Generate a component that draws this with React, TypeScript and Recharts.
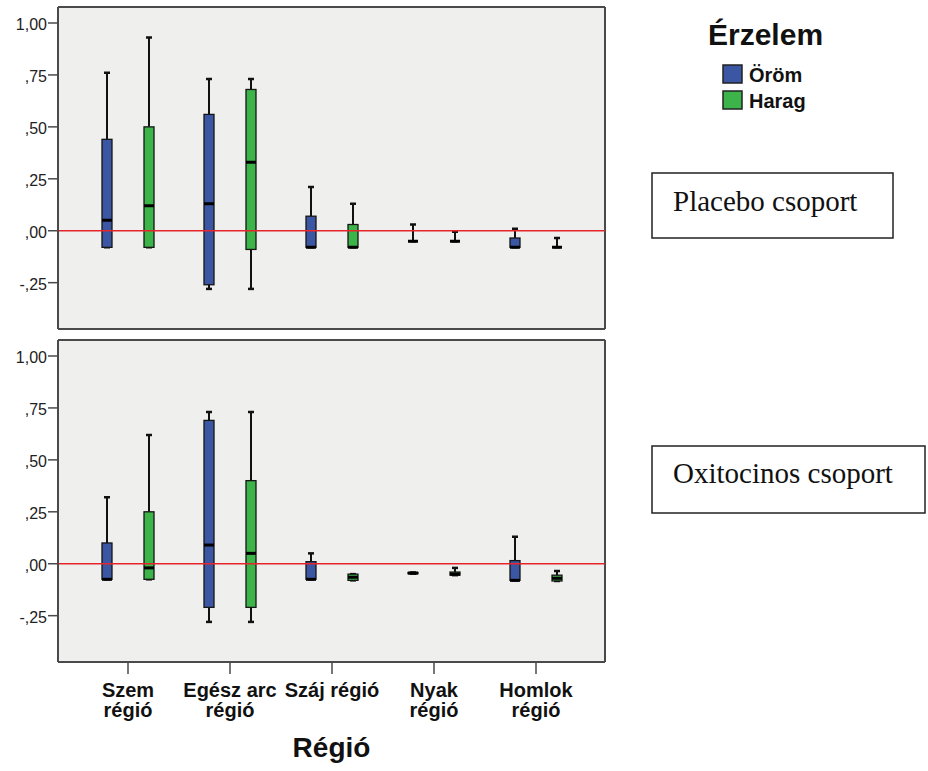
import React from "react";
import { ComposedChart, Bar, XAxis, YAxis, CartesianGrid, ReferenceLine } from "recharts";

// ---------- data ----------
const categories = ["Szem régió", "Egész arc régió", "Száj régió", "Nyak régió", "Homlok régió"];
const categoryLines = [["Szem", "régió"], ["Egész arc", "régió"], ["Száj régió"], ["Nyak", "régió"], ["Homlok", "régió"]];
const seriesNames = ["Öröm", "Harag"];
const legendTitle = "Érzelem";
const axisTitle = "Régió";
const panelTitles = ["Placebo csoport", "Oxitocinos csoport"];
const yTicks = [-0.25, 0, 0.25, 0.5, 0.75, 1];
const yTickLabels = ["-,25", ",00", ",25", ",50", ",75", "1,00"];

// [min, q1, median, q3, max] per category
const placeboOrom = [
  [-0.08, -0.08, 0.05, 0.44, 0.76],
  [-0.28, -0.26, 0.13, 0.56, 0.73],
  [-0.08, -0.08, -0.08, 0.07, 0.21],
  [-0.05, -0.05, -0.05, -0.05, 0.03],
  [-0.08, -0.08, -0.08, -0.035, 0.01],
];
const placeboHarag = [
  [-0.08, -0.08, 0.12, 0.5, 0.93],
  [-0.28, -0.09, 0.33, 0.68, 0.73],
  [-0.08, -0.08, -0.08, 0.03, 0.13],
  [-0.05, -0.05, -0.05, -0.05, -0.005],
  [-0.08, -0.08, -0.08, -0.08, -0.035],
];
const oxiOrom = [
  [-0.075, -0.075, -0.075, 0.1, 0.32],
  [-0.28, -0.21, 0.09, 0.69, 0.73],
  [-0.075, -0.075, -0.075, 0.01, 0.05],
  [-0.048, -0.048, -0.045, -0.042, -0.042],
  [-0.08, -0.08, -0.08, 0.015, 0.13],
];
const oxiHarag = [
  [-0.075, -0.075, -0.02, 0.25, 0.62],
  [-0.28, -0.21, 0.05, 0.4, 0.73],
  [-0.08, -0.08, -0.065, -0.05, -0.05],
  [-0.055, -0.055, -0.05, -0.04, -0.02],
  [-0.083, -0.083, -0.07, -0.055, -0.035],
];

// ---------- style ----------
const Y_MIN = -0.473;
const Y_MAX = 1.077;
const BLUE = "#3b56a3";
const GREEN = "#3db44a";
const FRAME = "#4a4a4a";
const SANS = "'Liberation Sans', Arial, sans-serif";
const SERIF = "'Liberation Serif', 'Times New Roman', serif";

type Row = { name: string; idx: number; o: number[]; h: number[] };
const buildRows = (o: number[][], h: number[][]): Row[] =>
  categories.map((name, i) => ({ name, idx: i, o: o[i], h: h[i] }));

const placeboRows = buildRows(placeboOrom, placeboHarag);
const oxiRows = buildRows(oxiOrom, oxiHarag);

const fmt = (v: number) => {
  const i = yTicks.findIndex((t) => Math.abs(t - v) < 1e-9);
  return i >= 0 ? yTickLabels[i] : String(v);
};

const BoxShape = (props: any, stats: number[], color: string) => {
  const { x, y, width, height } = props;
  if (x == null || y == null) return <g />;
  const h = height || 0;
  const top = Math.min(y, y + h);
  const bot = Math.max(y, y + h);
  const [mn, q1, md, q3, mx] = stats;
  const span = mx - mn;
  const py = (v: number) => (span === 0 ? top : bot - ((bot - top) * (v - mn)) / span);
  const cx = x + width / 2;
  return (
    <g>
      <line x1={cx} x2={cx} y1={py(mx)} y2={py(q3)} stroke="#111" strokeWidth={2} />
      <line x1={cx} x2={cx} y1={py(q1)} y2={py(mn)} stroke="#111" strokeWidth={2} />
      <line x1={cx - 3} x2={cx + 3} y1={py(mx)} y2={py(mx)} stroke="#111" strokeWidth={2.5} />
      <line x1={cx - 3} x2={cx + 3} y1={py(mn)} y2={py(mn)} stroke="#111" strokeWidth={2.5} />
      <rect x={x} y={py(q3)} width={width} height={Math.max(0, py(q1) - py(q3))} fill={color} stroke="#151515" strokeWidth={1.3} />
      <line x1={x} x2={x + width} y1={py(md)} y2={py(md)} stroke="#000" strokeWidth={3} />
    </g>
  );
};

const CatTick = (props: any) => {
  const { x, y, payload } = props;
  const lines = categoryLines[payload.index] || [payload.value];
  return (
    <g>
      {lines.map((l: string, i: number) => (
        <text key={i} x={x} y={y + 21 + i * 20} textAnchor="middle" fontFamily={SANS} fontWeight="bold" fontSize={20} fill="#111">
          {l}
        </text>
      ))}
    </g>
  );
};

const YTick = (props: any) => {
  const { x, y, payload } = props;
  return (
    <text x={x} y={y + 7} textAnchor="end" fontFamily={SANS} fontSize={16} fill="#222">
      {fmt(payload.value)}
    </text>
  );
};

const frameH = (p: any) => [p.offset.top, p.offset.top + p.offset.height];
const frameV = (p: any) => [p.offset.left, p.offset.left + p.offset.width];

function Panel({ rows, showX }: { rows: Row[]; showX: boolean }) {
  const axisLine = { stroke: FRAME, strokeWidth: 2 };
  return (
    <ComposedChart
      width={620}
      height={showX ? 438 : 340}
      data={rows}
      margin={{ top: 7, right: 15, bottom: showX ? 0 : 11, left: 0 }}
      barGap={32}
    >
      <CartesianGrid
        fill="#eff0ee"
        stroke={FRAME}
        strokeWidth={2}
        horizontalCoordinatesGenerator={frameH}
        verticalCoordinatesGenerator={frameV}
      />
      <XAxis
        dataKey="name"
        type="category"
        padding={{ left: 19, right: 18 }}
        height={showX ? 109 : 0}
        tick={showX ? <CatTick /> : false}
        tickLine={showX ? { stroke: FRAME, strokeWidth: 1.5 } : false}
        tickSize={12}
        interval={0}
        axisLine={axisLine}
      />
      <YAxis
        type="number"
        domain={[Y_MIN, Y_MAX]}
        allowDataOverflow
        ticks={yTicks}
        interval={0}
        tickFormatter={fmt}
        width={58}
        tickSize={10}
        tickMargin={1}
        tick={<YTick />}
        tickLine={{ stroke: FRAME, strokeWidth: 1.5 }}
        axisLine={axisLine}
      />
      <Bar
        dataKey={(d: Row) => [d.o[0], d.o[4]]}
        name={seriesNames[0]}
        barSize={10}
        fill={BLUE}
        isAnimationActive={false}
        shape={(p: any) => BoxShape(p, p.payload.o, BLUE)}
      />
      <Bar
        dataKey={(d: Row) => [d.h[0], d.h[4]]}
        name={seriesNames[1]}
        barSize={10}
        fill={GREEN}
        isAnimationActive={false}
        shape={(p: any) => BoxShape(p, p.payload.h, GREEN)}
      />
      <ReferenceLine y={0} stroke="#e8242b" strokeWidth={1.5} />
    </ComposedChart>
  );
}

export default function App() {
  return (
    <div style={{ position: "absolute", left: 0, top: 0, width: 928, height: 771, background: "#fff" }}>
      <div style={{ position: "absolute", left: 0, top: 0 }}>
        <Panel rows={placeboRows} showX={false} />
      </div>
      <div style={{ position: "absolute", left: 0, top: 333 }}>
        <Panel rows={oxiRows} showX={true} />
      </div>
      <svg width={928} height={771} style={{ position: "absolute", left: 0, top: 0, pointerEvents: "none" }}>
        <text x={331.5} y={757} textAnchor="middle" fontFamily={SANS} fontWeight="bold" fontSize={28} fill="#111">
          {axisTitle}
        </text>
        <text x={708} y={45} fontFamily={SANS} fontWeight="bold" fontSize={30} fill="#111">
          {legendTitle}
        </text>
        <rect x={723} y={65} width={19} height={18} fill={BLUE} stroke="#222" strokeWidth={1.5} />
        <text x={749} y={82} fontFamily={SANS} fontWeight="bold" fontSize={20} fill="#111">
          {seriesNames[0]}
        </text>
        <rect x={723} y={91} width={19} height={18} fill={GREEN} stroke="#222" strokeWidth={1.5} />
        <text x={749} y={108} fontFamily={SANS} fontWeight="bold" fontSize={20} fill="#111">
          {seriesNames[1]}
        </text>
        <rect x={652} y={173} width={241} height={65} fill="none" stroke="#222" strokeWidth={1.5} />
        <text x={673} y={211} fontFamily={SERIF} fontSize={29} fill="#111">
          {panelTitles[0]}
        </text>
        <rect x={652} y={446} width={273} height={67} fill="none" stroke="#222" strokeWidth={1.5} />
        <text x={673} y={483} fontFamily={SERIF} fontSize={29} fill="#111">
          {panelTitles[1]}
        </text>
      </svg>
    </div>
  );
}
